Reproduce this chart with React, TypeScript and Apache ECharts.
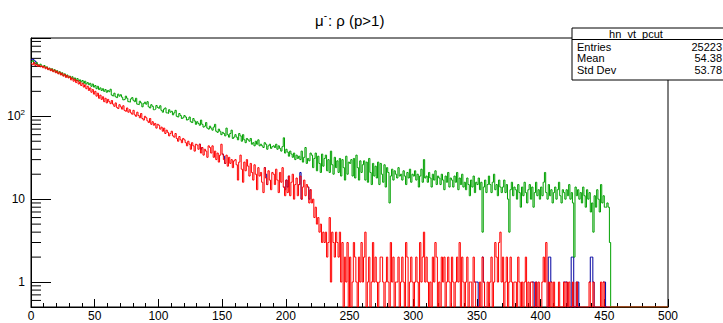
import React, { useEffect, useRef } from "react";
import * as echarts from "echarts";

// ---- data (1-unit bins starting at 0) ----
const greenCounts: number[] = [
  455, 470, 440, 430, 445, 420, 410, 425, 400, 395,
  410, 385, 395, 370, 380, 360, 375, 350, 365, 340,
  355, 330, 345, 320, 335, 310, 325, 300, 315, 295,
  305, 285, 300, 280, 290, 270, 285, 265, 275, 260,
  270, 250, 265, 245, 255, 240, 250, 230, 245, 225,
  235, 215, 230, 210, 220, 205, 215, 200, 210, 195,
  205, 198, 212, 180, 176, 190, 172, 168, 185, 175,
  182, 170, 158, 160, 175, 165, 150, 148, 162, 168,
  156, 150, 165, 140, 138, 152, 145, 130, 142, 148,
  140, 150, 130, 126, 138, 132, 120, 122, 135, 128,
  125, 134, 118, 112, 122, 126, 110, 108, 120, 112,
  115, 104, 110, 118, 100, 98, 108, 102, 94, 96,
  102, 98, 90, 92, 98, 86, 84, 94, 88, 80,
  86, 82, 78, 90, 80, 74, 76, 84, 72, 70,
  76, 72, 68, 74, 80, 66, 64, 70, 66, 60,
  64, 62, 58, 72, 60, 56, 62, 68, 54, 56,
  60, 56, 52, 62, 58, 50, 60, 52, 48, 54,
  52, 50, 54, 46, 48, 44, 50, 46, 52, 44,
  46, 44, 42, 48, 46, 40, 44, 46, 41, 43,
  44, 42, 46, 40, 44, 41, 38, 43, 55, 36,
  40, 37, 33, 38, 35, 32, 36, 30, 34, 31,
  33, 30, 38, 28, 32, 42, 27, 31, 29, 36,
  34, 24, 31, 36, 22, 33, 27, 21, 35, 25,
  31, 34, 22, 30, 21, 38, 26, 20, 32, 24,
  29, 21, 31, 19, 30, 24, 17, 33, 20, 28,
  27, 30, 19, 31, 18, 34, 24, 17, 29, 21,
  26, 29, 17, 28, 16, 31, 21, 15, 27, 19,
  25, 18, 28, 15, 27, 20, 16, 26, 14, 24,
  21, 9, 19, 23, 17, 22, 20, 18, 24, 19,
  20, 17, 22, 19, 15, 21, 18, 23, 16, 20,
  19, 22, 17, 20, 14, 19, 23, 16, 30, 18,
  19, 16, 21, 18, 14, 20, 17, 22, 15, 19,
  18, 15, 20, 17, 13, 19, 16, 21, 14, 18,
  17, 14, 19, 16, 21, 13, 18, 15, 20, 14,
  16, 13, 18, 15, 11, 17, 14, 19, 12, 16,
  15, 18, 13, 16, 4, 14, 17, 12, 15, 19,
  15, 12, 16, 20, 13, 15, 11, 17, 14, 12,
  14, 17, 12, 15, 10, 4, 13, 16, 11, 14,
  13, 10, 15, 12, 8, 14, 11, 16, 12, 9,
  13, 15, 10, 14, 8, 12, 16, 11, 13, 10,
  14, 11, 16, 21, 12, 10, 15, 11, 13, 9,
  12, 14, 10, 13, 16, 11, 9, 13, 12, 10,
  13, 11, 15, 10, 12, 9, 2, 14, 11, 13,
  10, 12, 9, 14, 11, 8, 13, 10, 12, 7,
  9, 4, 11, 8, 13, 10, 7, 15, 9, 11,
  8, 8, 9, 8, 3,
];

const redCounts: number[] = [
  430, 420, 445, 410, 425, 400, 415, 395, 405, 385,
  400, 375, 390, 365, 380, 355, 370, 345, 360, 335,
  350, 325, 340, 315, 330, 305, 320, 295, 310, 290,
  300, 275, 290, 265, 280, 255, 270, 245, 260, 235,
  250, 225, 240, 215, 230, 205, 220, 195, 210, 185,
  200, 175, 190, 165, 180, 160, 172, 150, 165, 145,
  160, 150, 142, 155, 140, 132, 145, 128, 124, 138,
  130, 122, 134, 118, 115, 126, 112, 120, 110, 106,
  118, 104, 100, 112, 102, 96, 108, 94, 90, 100,
  96, 88, 84, 94, 80, 86, 78, 82, 72, 80,
  78, 70, 74, 66, 72, 62, 68, 64, 58, 62,
  66, 58, 56, 62, 54, 50, 57, 52, 48, 54,
  52, 48, 44, 50, 46, 40, 48, 44, 38, 46,
  45, 40, 46, 36, 42, 34, 40, 38, 32, 44,
  42, 36, 44, 32, 38, 30, 36, 28, 34, 46,
  35, 30, 27, 34, 25, 32, 27, 30, 24, 29,
  30, 26, 17, 28, 34, 23, 16, 28, 22, 30,
  25, 19, 27, 21, 17, 26, 20, 13, 24, 19,
  21, 16, 12, 24, 18, 15, 22, 17, 13, 21,
  20, 15, 23, 17, 12, 21, 16, 24, 14, 11,
  17, 12, 19, 11, 16, 20, 10, 15, 18, 11,
  15, 19, 10, 14, 17, 11, 15, 14, 9, 13,
  9, 10, 6, 8, 5, 6, 4, 5, 3, 4,
  3, 4, 2, 3, 6, 1, 4, 3, 2, 4,
  3, 2, 4, 1, 3, 0, 2, 1, 3, 0,
  2, 0, 1, 3, 2, 1, 0, 2, 1, 3,
  1, 2, 4, 0, 1, 2, 0, 1, 3, 1,
  2, 1, 0, 1, 2, 2, 1, 0, 1, 2,
  1, 0, 3, 1, 2, 0, 1, 1, 2, 0,
  1, 2, 1, 0, 3, 2, 0, 1, 2, 1,
  0, 1, 2, 1, 0, 3, 1, 2, 4, 1,
  2, 1, 0, 1, 0, 2, 1, 3, 2, 0,
  1, 0, 2, 1, 2, 0, 1, 2, 1, 0,
  2, 1, 0, 1, 2, 1, 3, 0, 2, 1,
  0, 1, 2, 0, 1, 1, 0, 2, 1, 0,
  0, 0, 1, 0, 2, 1, 0, 0, 1, 0,
  1, 2, 0, 1, 3, 2, 1, 3, 4, 1,
  2, 0, 1, 2, 0, 1, 2, 1, 0, 1,
  1, 0, 2, 1, 0, 1, 0, 1, 2, 0,
  1, 0, 1, 1, 0, 0, 1, 0, 1, 0,
  0, 1, 2, 1, 3, 0, 1, 0, 1, 0,
  1, 0, 0, 0, 1, 0, 0, 0, 1, 0,
  1, 0, 1, 0, 0, 1, 0, 0, 1, 0,
  0, 0, 0, 0, 0, 0, 0, 0, 1, 0,
  0, 1, 0, 0, 0, 0, 0, 1, 0, 1,
  0, 0, 0, 0, 0, 0,
];

// blue histogram = red histogram except in these bins [bin, count]
const blueOverrides: [number, number][] = [
  [0, 485], [1, 490], [2, 475], [3, 460],
  [133, 40], [151, 33], [184, 20], [199, 13], [201, 14], [211, 21], [218, 10],
  [349, 1], [350, 1], [355, 1], [394, 1], [396, 1], [406, 2], [407, 2],
  [419, 1], [420, 1], [424, 2], [425, 2], [428, 1], [429, 1],
  [439, 2], [440, 2], [441, 1], [450, 1],
];

const xTickLabels = [0, 50, 100, 150, 200, 250, 300, 350, 400, 450, 500];
const yMinorTicks = [
  0.6, 0.7, 0.8, 0.9,
  2, 3, 4, 5, 6, 7, 8, 9,
  20, 30, 40, 50, 60, 70, 80, 90,
  200, 300, 400, 500, 600, 700, 800,
];
const statsTitle = "hn_vt_pcut";
const statsLabels = ["Entries", "Mean", "Std Dev"];
const statsValues = ["25223", "54.38", "53.78"];

const N_BINS = 500;
const Y_MIN = 0.5;
const Y_MAX = 880;

function toSteps(counts: number[]): [number, number][] {
  const pts: [number, number][] = [];
  for (let i = 0; i < N_BINS; i++) {
    const v = counts[i] ?? 0;
    pts.push([i, v > 0 ? v : Y_MIN]);
  }
  pts.push([N_BINS, Y_MIN]);
  return pts;
}

export default function App() {
  const ref = useRef<HTMLDivElement>(null);
  useEffect(() => {
    if (!ref.current) return;
    const chart = echarts.init(ref.current, null, { renderer: "svg" });

    // blue: same as red except overrides; only draw bins around overrides
    const blueCounts = redCounts.slice();
    const near = new Set<number>();
    for (const [b, v] of blueOverrides) {
      blueCounts[b] = v;
      near.add(b - 1); near.add(b); near.add(b + 1);
    }
    const blueData = toSteps(blueCounts).map(([x, y]) =>
      near.has(x) ? [x, y] : [x, null]
    );

    const font = "'Liberation Sans', Arial, Helvetica, sans-serif";
    const lineSeries = (name: string, data: any[], color: string, z: number) => ({
      name,
      type: "line",
      step: "end",
      data,
      symbol: "none",
      showSymbol: false,
      connectNulls: false,
      lineStyle: { color, width: 1 },
      clip: true,
      z,
    });

    chart.setOption({
      animation: false,
      backgroundColor: "#fff",
      textStyle: { fontFamily: font },
      grid: {
        left: 31, right: 55, top: 38, bottom: 16,
        show: true, borderColor: "#000", borderWidth: 1, backgroundColor: "transparent",
      },
      xAxis: {
        type: "value",
        min: 0, max: 500, interval: 50,
        axisLine: { show: true, lineStyle: { color: "#000", width: 1 } },
        axisTick: { show: true, inside: true, length: 8, lineStyle: { color: "#000" } },
        minorTick: { show: true, splitNumber: 5, length: 4, lineStyle: { color: "#000" } },
        splitLine: { show: false },
        axisLabel: {
          color: "#000", fontSize: 12, margin: 3, fontFamily: font,
          formatter: (v: number) => (xTickLabels.includes(v) ? String(v) : ""),
        },
      },
      yAxis: {
        type: "log",
        logBase: 10,
        min: Y_MIN, max: Y_MAX,
        axisLine: { show: true, lineStyle: { color: "#000", width: 1 } },
        axisTick: { show: true, inside: true, length: 20, lineStyle: { color: "#000" } },
        minorTick: { show: false },
        splitLine: { show: false },
        axisLabel: {
          color: "#000", fontSize: 12, margin: 6, fontFamily: font,
          formatter: (v: number) => {
            if (Math.abs(v - 1) < 1e-6) return "1";
            if (Math.abs(v - 10) < 1e-6) return "10";
            if (Math.abs(v - 100) < 1e-6) return "{b|10}{s|2}";
            return "";
          },
          rich: {
            b: { fontSize: 12, color: "#000", fontFamily: font },
            s: { fontSize: 8, color: "#000", fontFamily: font, padding: [0, 0, 8, 0] },
          },
        },
      },
      title: {
        text: "{a|μ}{s|-}{a|: ρ (p>1)}",
        left: 310, top: 5,
        textStyle: {
          fontWeight: "normal",
          rich: {
            a: { fontSize: 15, color: "#000", fontFamily: font, fontWeight: "normal" },
            s: { fontSize: 10, color: "#000", fontFamily: font, fontWeight: "normal", padding: [0, 1, 10, 0] },
          },
        },
      },
      series: [
        {
          type: "custom",
          data: yMinorTicks.map((v) => [0, v]),
          renderItem: (_p: any, api: any) => {
            const pt = api.coord([0, api.value(1)]);
            return {
              type: "line",
              shape: { x1: pt[0], y1: pt[1], x2: pt[0] + 10, y2: pt[1] },
              style: { stroke: "#000", lineWidth: 1 },
            };
          },
          z: 1,
          silent: true,
        },
        lineSeries("blue", blueData, "#0000a0", 3),
        lineSeries("green", toSteps(greenCounts), "#00a000", 4),
        lineSeries("red", toSteps(redCounts), "#ff0000", 5),
      ],
      graphic: [
        {
          type: "group",
          z: 100,
          children: [
            { type: "rect", shape: { x: 572, y: 28, width: 160, height: 52 },
              style: { fill: "#fff", stroke: "#000", lineWidth: 1 } },
            { type: "line", shape: { x1: 572, y1: 39.5, x2: 723, y2: 39.5 },
              style: { stroke: "#000", lineWidth: 1 } },
            { type: "text", x: 636, y: 33.5, style: { text: statsTitle, fontSize: 11, fontFamily: font,
              fill: "#000", align: "center", verticalAlign: "middle" } },
            ...statsLabels.map((t, i) => ({
              type: "text", x: 577, y: 47 + i * 11.3,
              style: { text: t, fontSize: 11, fontFamily: font, fill: "#000", align: "left", verticalAlign: "middle" },
            })),
            ...statsValues.map((t, i) => ({
              type: "text", x: 722, y: 47 + i * 11.3,
              style: { text: t, fontSize: 11, fontFamily: font, fill: "#000", align: "right", verticalAlign: "middle" },
            })),
          ],
        },
      ],
    });
    return () => chart.dispose();
  }, []);
  return (
    <div
      ref={ref}
      style={{ position: "absolute", left: 0, top: 0, width: 723, height: 323 }}
    />
  );
}
